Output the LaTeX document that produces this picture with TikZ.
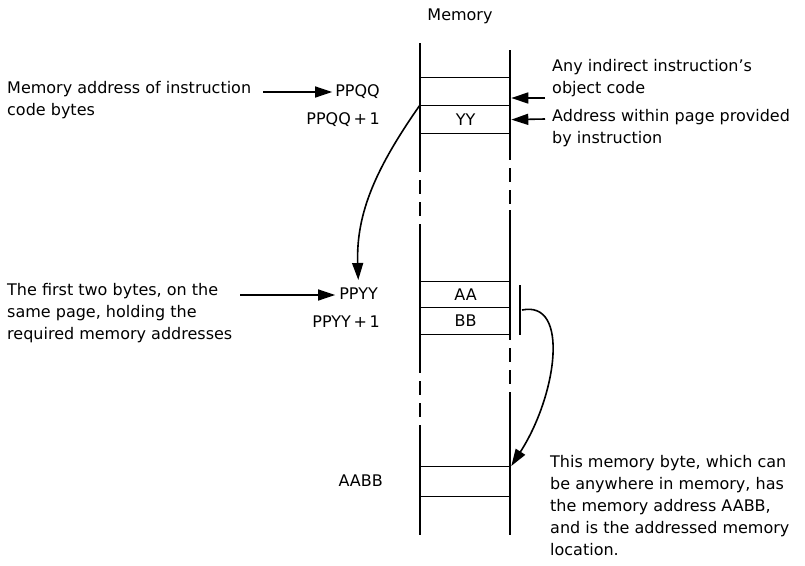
\documentclass[tikz,border=0pt]{standalone}
\usepackage{fontspec}
\setmainfont{DejaVu Sans}
\usetikzlibrary{arrows.meta}

\tikzset{
  wall/.style={line width=2pt},
  skipwall/.style={line width=2pt, dash pattern=on 14pt off 8pt, dash phase=14pt},
  cell/.style={draw, line width=1.3pt, minimum width=90pt, minimum height=28pt,
    inner sep=0pt, anchor=north west},
  addr/.style={anchor=east, inner sep=0pt},
  note/.style={anchor=north west, align=left, inner sep=0pt},
  ptr/.style={line width=1.6pt, -{Triangle[length=17pt,width=11pt]}},
}

\begin{document}
\begin{tikzpicture}[x=1pt, y=-1pt, font=\fontsize{16}{22}\selectfont]
    \useasboundingbox (0,0) rectangle (805,565);
    \node (mem) at (460,16) {Memory};
    % the memory column, broken where bytes are skipped
    \draw[wall] (420,43) -- (420,172);
    \draw[skipwall] (420,172) -- (420,235);
    \draw[wall] (420,235) -- (420,373);
    \draw[skipwall] (420,373) -- (420,433);
    \draw[wall] (420,433) -- (420,535);
    \draw[wall] (510,50) -- (510,160);
    \draw[skipwall] (510,160) -- (510,210);
    \draw[wall] (510,210) -- (510,340);
    \draw[skipwall] (510,340) -- (510,405);
    \draw[wall] (510,405) -- (510,535);
    % bytes
    \node[cell] (qq) at (420,77) {};
    \node[cell] (yy) at (420,105) {YY};
    \node[cell, minimum height=26pt] (aa) at (420,281) {AA};
    \node[cell, minimum height=27pt] (bb) at (420,307) {BB};
    \node[cell, minimum height=30pt] (ab) at (420,466) {};
    % addresses
    \node[addr] (ppqq) at (380,92) {PPQQ};
    \node[addr] (ppqq1) at (380,120) {PPQQ\,+\,1};
    \node[addr] (ppyy) at (378,294) {PPYY};
    \node[addr] (ppyy1) at (380,322) {PPYY\,+\,1};
    \node[addr] (aabb) at (383,481) {AABB};
    % notes
    \node[note] (codebytes) at (7,81) {Memory address of instruction\\code bytes};
    \node[note] (firsttwo) at (7,283) {The first two bytes, on the\\same page, holding the\\required memory addresses};
    \node[note] (anyind) at (552,59) {Any indirect instruction's\\object code};
    \node[note] (within) at (552,109) {Address within page provided\\by instruction};
    \node[note] (thisbyte) at (550,455) {This memory byte, which can\\be anywhere in memory, has\\the memory address AABB,\\and is the addressed memory\\location.};
    % pointers
    \coordinate (t1) at (263,92);
    \draw[ptr, shorten >=3pt] (t1) -- (ppqq.west);
    \coordinate (t2) at (240,295);
    \draw[ptr, shorten >=4pt] (t2) -- (t2 -| ppyy.west);
    \coordinate (t3) at (545,98);
    \draw[ptr] (t3) -- (t3 -| qq.east);
    \coordinate (t4) at (545,119);
    \draw[ptr] (t4) -- (yy.east);
    \draw[ptr, shorten >=8pt] (yy.north west) to[out=235, in=92] (ppyy.north);
    % AA and BB together give the final address
    \draw[wall] (520,285) -- (520,335);
    \coordinate (brk) at (522,310);
    \draw[ptr] (brk) .. controls (570,300) and (557,395) .. (ab.north east);
\end{tikzpicture}
\end{document}
